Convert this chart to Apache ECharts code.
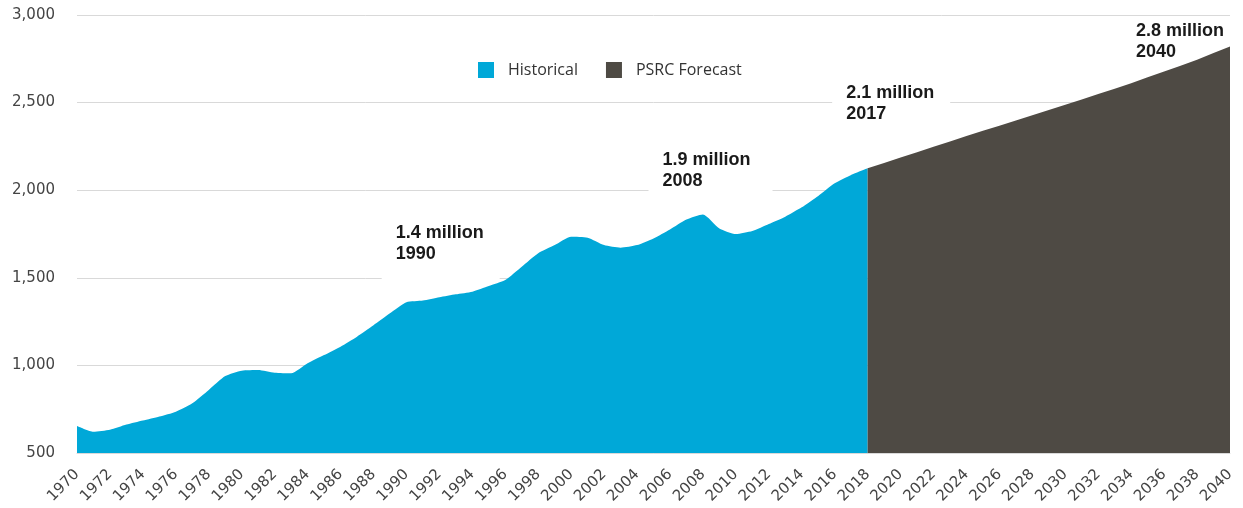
<!DOCTYPE html>
<html>
<head>
<meta charset="utf-8">
<script src="https://cdn.jsdelivr.net/npm/echarts@6/dist/echarts.min.js"></script>
<style>
  html, body { margin: 0; padding: 0; background: #fff; }
  #popChart { width: 1243px; height: 508px; }
</style>
</head>
<body>
<div id="popChart"></div>
<script>
/* 区域人口：历史 + PSRC 预测（千人） */
var histYears = [1970, 1971, 1972, 1973, 1974, 1975, 1976, 1977, 1978, 1979,
    1980, 1981, 1982, 1983, 1984, 1985, 1986, 1987, 1988, 1989,
    1990, 1991, 1992, 1993, 1994, 1995, 1996, 1997, 1998, 1999,
    2000, 2001, 2002, 2003, 2004, 2005, 2006, 2007, 2008, 2009,
    2010, 2011, 2012, 2013, 2014, 2015, 2016, 2017, 2018];
var histValues = [654, 621, 632, 662, 685, 708, 736, 784, 860, 939,
    970, 974, 958, 955, 1012, 1059, 1107, 1164, 1229, 1297,
    1360, 1370, 1389, 1406, 1421, 1453, 1487, 1563, 1640, 1687,
    1735, 1729, 1687, 1672, 1687, 1725, 1776, 1833, 1862, 1782,
    1750, 1767, 1807, 1849, 1902, 1967, 2039, 2087, 2125];

var forecastYears = [2018, 2019, 2020, 2021, 2022, 2023, 2024, 2025, 2026, 2027,
    2028, 2029, 2030, 2031, 2032, 2033, 2034, 2035, 2036, 2037,
    2038, 2039, 2040];
var forecastValues = [2125, 2155, 2186, 2217, 2248, 2278, 2309, 2339, 2368, 2398,
    2428, 2458, 2488, 2518, 2549, 2579, 2611, 2644, 2677, 2710,
    2745, 2783, 2820];

// 标注文字及其位置（数据坐标，文字框左上角）
var annoText = ['1.4 million\n1990', '1.9 million\n2008', '2.1 million\n2017', '2.8 million\n2040'];
var annoYear = [1988.5, 2004.7, 2015.85, 2033.45];
var annoValue = [1838, 2255, 2638, 2991];

var seriesNames = ['Historical', 'PSRC Forecast'];
var colors = ['#00a8d8', '#4e4a44'];

function pairs(xs, ys) {
    var out = [];
    for (var i = 0; i < xs.length; i++) {
        out.push([xs[i], ys[i]]);
    }
    return out;
}

function makePopChart() {
    var chart = echarts.init(document.getElementById('popChart'));

    var annoPadding = [[4, 16, 16, 14], [4, 22, 6, 14], [4, 16, 4, 14], [4, 16, 4, 14]];
    var annoBg = ['#fff', '#fff', '#fff', 'transparent'];
    var markData = [];
    for (var i = 0; i < annoText.length; i++) {
        markData.push({
            coord: [annoYear[i], annoValue[i]],
            value: annoText[i],
            label: {
                backgroundColor: annoBg[i],
                padding: annoPadding[i]
            }
        });
    }

    var option = {
        animation: false,
        color: colors,
        grid: {
            left: 77,
            right: 13,
            top: 15,
            bottom: 55
        },
        legend: {
            left: 478,
            top: 62,
            padding: 0,
            itemWidth: 16,
            itemHeight: 16,
            itemGap: 28,
            icon: 'rect',
            textStyle: {
                fontFamily: 'Open Sans',
                fontSize: 16,
                color: '#333',
                padding: [0, 0, 0, 9]
            },
            data: seriesNames
        },
        xAxis: {
            type: 'value',
            min: 1970,
            max: 2040,
            interval: 2,
            splitLine: { show: false },
            axisTick: { show: false },
            axisLine: {
                show: true,
                lineStyle: { color: '#d9d9d9' }
            },
            axisLabel: {
                rotate: 45,
                margin: 19,
                fontFamily: 'DejaVu Sans',
                fontSize: 15,
                color: '#444',
                formatter: function (v) { return String(v); }
            }
        },
        yAxis: {
            type: 'value',
            min: 500,
            max: 3000,
            interval: 500,
            axisLine: { show: false },
            axisTick: { show: false },
            splitLine: {
                lineStyle: { color: '#d9d9d9', width: 1 }
            },
            axisLabel: {
                margin: 22,
                fontFamily: 'DejaVu Sans',
                fontSize: 15,
                color: '#444',
                formatter: function (v) { return v.toLocaleString('en-US'); }
            }
        },
        series: [
            {
                name: seriesNames[0],
                type: 'line',
                symbol: 'none',
                smooth: 0.2,
                lineStyle: { width: 0 },
                areaStyle: { color: colors[0], opacity: 1, origin: 'start' },
                data: pairs(histYears, histValues),
                markPoint: {
                    symbol: 'circle',
                    symbolSize: 0.1,
                    itemStyle: { color: 'transparent' },
                    label: {
                        show: true,
                        position: [0, 0],
                        align: 'left',
                        verticalAlign: 'top',
                        fontFamily: 'Liberation Sans',
                        fontWeight: 'bold',
                        fontSize: 18,
                        lineHeight: 21,
                        color: '#1a1a1a',
                        formatter: function (p) { return p.value; }
                    },
                    data: markData
                }
            },
            {
                name: seriesNames[1],
                type: 'line',
                symbol: 'none',
                lineStyle: { width: 0 },
                areaStyle: { color: colors[1], opacity: 1, origin: 'start' },
                data: pairs(forecastYears, forecastValues)
            }
        ]
    };

    chart.setOption(option);
}

makePopChart();
</script>
</body>
</html>
